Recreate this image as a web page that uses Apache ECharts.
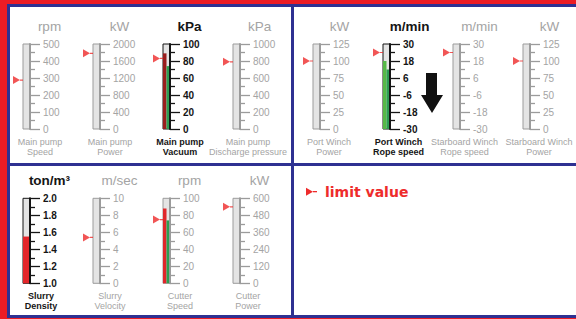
<!DOCTYPE html>
<html><head><meta charset="utf-8">
<script src="https://cdn.jsdelivr.net/npm/echarts@6/dist/echarts.min.js"></script>
<style>html,body{margin:0;padding:0;background:#ec1c24;overflow:hidden}#c{width:576px;height:319px}</style>
</head><body><div id="c"></div>
<script>
// ---------- data ----------
const units = ['rpm','kW','kPa','kPa','kW','m/min','m/min','kW','ton/m\u00b3','m/sec','rpm','kW'];
const captions = [['Main pump','Speed'],['Main pump','Power'],['Main pump','Vacuum'],['Main pump','Discharge pressure'],
  ['Port Winch','Power'],['Port Winch','Rope speed'],['Starboard Winch','Rope speed'],['Starboard Winch','Power'],
  ['Slurry','Density'],['Slurry','Velocity'],['Cutter','Speed'],['Cutter','Power']];
const tickLabels = [
  [0,100,200,300,400,500],
  [0,400,800,1200,1600,2000],
  [0,20,40,60,80,100],
  [0,200,400,600,800,1000],
  [0,25,50,75,100,125],
  [-30,-18,-6,6,18,30],
  [-30,-18,-6,6,18,30],
  [0,25,50,75,100,125],
  [1.0,1.2,1.4,1.6,1.8,2.0],
  [0,2,4,6,8,10],
  [0,20,40,60,80,100],
  [0,120,240,360,480,600]
];
const labelDecimals = [0,0,0,0,0,0,0,0,1,0,0,0];
const limitValues = [288,1780,83,790,100,24,24,100,null,5.4,75,540];
const mainFill =   [null,null,89,null,null,18,null,null,1.55,null,88,null];
const secondFill = [null,null,74,null,null,12,null,null,null,null,74,null];
const activeGauge = [false,false,true,false,false,true,false,false,true,false,false,false];
const legendText = 'limit value';

// ---------- layout / style ----------
const colX = [40,110,180,250,330,400,470,540,40,110,180,250];
const captionX = [40,110,180,248,329,398.5,464.5,539,41,110,180,248];
const rowOf = [0,0,0,0,0,0,0,0,1,1,1,1];
const rowTop = [44,198.3];
const plotH = 85;
const tubeW = 7;
const mainFillColor = [null,null,'#9a1e1e',null,null,'#56b947',null,null,'#e3262b',null,'#e0262b',null];
const secondFillColor = '#2c9e52';
const RED = '#ee2b2b';
const GREY_TXT = '#a4a4a4', GREY_LINE = '#9b9b9b', DARK = '#151515';
const FONT = '"Liberation Sans", Arial, sans-serif';
const markerPath = 'path://M0,0L7,4L0,8Z M7,3.4L10,3.4L10,4.6L7,4.6Z';

const grids = [], xAxes = [], yAxes = [], series = [], graphics = [];

// panels
graphics.push({type:'rect', z:-10, shape:{x:7,y:4,width:569,height:314}, style:{fill:'#2e3192'}});
[[10,7,281,156],[294,7,282,156],[10,166,281,149],[294,166,282,149]].forEach(r=>{
  graphics.push({type:'rect', z:-9, shape:{x:r[0],y:r[1],width:r[2],height:r[3]}, style:{fill:'#ffffff'}});
});

units.forEach((u,i)=>{
  const t = tickLabels[i];
  const mn = t[0], mx = t[t.length-1];
  const mids = [];
  for (let k=0;k<t.length-1;k++) mids.push((t[k]+t[k+1])/2);
  const act = activeGauge[i];
  const top = rowTop[rowOf[i]];
  const left = colX[i]-17;
  const lineC = act ? DARK : GREY_LINE;
  const txtC = act ? DARK : GREY_TXT;
  grids.push({left:left, top:top, width:tubeW, height:plotH, show:true,
    backgroundColor:'#e4e4e4', borderColor:lineC, borderWidth:1,
    containLabel:false, outerBoundsMode:'none'});
  xAxes.push({type:'value', gridIndex:i, min:0, max:1, show:false, axisLine:{onZero:false}});
  const dec = labelDecimals[i];
  yAxes.push({type:'value', gridIndex:i, position:'right', min:mn, max:mx, z:5,
    splitLine:{show:false},
    axisLine:{show:true, onZero:false, lineStyle:{color:lineC, width:2}},
    axisTick:{show:true, inside:false, length:10, customValues:t, lineStyle:{color:lineC, width:1.3}},
    axisLabel:{show:true, margin:13, customValues:t, color:txtC, fontSize:10,
      fontWeight: act ? 'bold':'normal', fontFamily:FONT,
      formatter:(v)=>Number(v).toFixed(dec)}
  });
  yAxes.push({type:'value', gridIndex:i, position:'right', min:mn, max:mx, z:5,
    splitLine:{show:false},
    axisLine:{show:false, onZero:false},
    axisTick:{show:true, inside:false, length:5, customValues:mids, lineStyle:{color:lineC, width:1.3}},
    axisLabel:{show:false}
  });
  const renderFill = (color)=>function(params, api){
    const p0 = api.coord([api.value(0), mn]);
    const p1 = api.coord([api.value(1), api.value(2)]);
    return {type:'rect', shape:{x:p0[0], y:p1[1], width:p1[0]-p0[0], height:p0[1]-p1[1]}, style:{fill:color}};
  };
  if (mainFill[i] != null) {
    const full = secondFill[i] == null;
    series.push({type:'custom', xAxisIndex:i, yAxisIndex:2*i, silent:true, clip:false,
      encode:{x:[0,1], y:2},
      data:[[0, full?1:0.5, mainFill[i]]], renderItem:renderFill(mainFillColor[i]), z:2});
  }
  if (secondFill[i] != null) {
    series.push({type:'custom', xAxisIndex:i, yAxisIndex:2*i, silent:true, clip:false,
      encode:{x:[0,1], y:2},
      data:[[0.5, 1, secondFill[i]]], renderItem:renderFill(secondFillColor), z:2});
  }
  if (limitValues[i] != null) {
    series.push({type:'scatter', xAxisIndex:i, yAxisIndex:2*i, silent:true, clip:false,
      symbol:markerPath, symbolSize:[10,8], symbolOffset:[-5,0],
      itemStyle:{color:RED}, data:[[0, limitValues[i]]], z:6});
  }
  // unit label
  graphics.push({type:'text', x:colX[i]+9.5, y:top-17.4, z:10,
    style:{text:u, fill:txtC, font:(act?'bold ':'')+'13.5px '+FONT,
      align:'center', verticalAlign:'middle', textAlign:'center', textVerticalAlign:'middle'}});
  // caption
  graphics.push({type:'text', x:captionX[i], y:top+plotH+8, z:10,
    style:{text:captions[i].join('\n'), fill:txtC, font:(act?'bold ':'')+'9px '+FONT, lineHeight:10,
      align:'center', verticalAlign:'top', textAlign:'center', textVerticalAlign:'top'}});
});

// big direction arrow
graphics.push({type:'polygon', z:10, shape:{points:[[426,73],[437,73],[437,95],[443,95],[432,113],[421,95],[426,95]]}, style:{fill:'#111111'}});
// legend
graphics.push({type:'polygon', z:10, shape:{points:[[306,187.7],[313,191.7],[306,195.7]]}, style:{fill:RED}});
graphics.push({type:'rect', z:10, shape:{x:313,y:191,width:4,height:1.3}, style:{fill:RED}});
graphics.push({type:'text', x:325, y:191.7, z:10,
  style:{text:legendText, fill:RED, font:'bold 14px "DejaVu Sans", Verdana, sans-serif',
    align:'left', verticalAlign:'middle', textAlign:'left', textVerticalAlign:'middle'}});

const chart = echarts.init(document.getElementById('c'), null, {renderer:'svg'});
chart.setOption({
  backgroundColor:'#ec1c24',
  animation:false,
  grid:grids, xAxis:xAxes, yAxis:yAxes, series:series, graphic:graphics
});
</script></body></html>
